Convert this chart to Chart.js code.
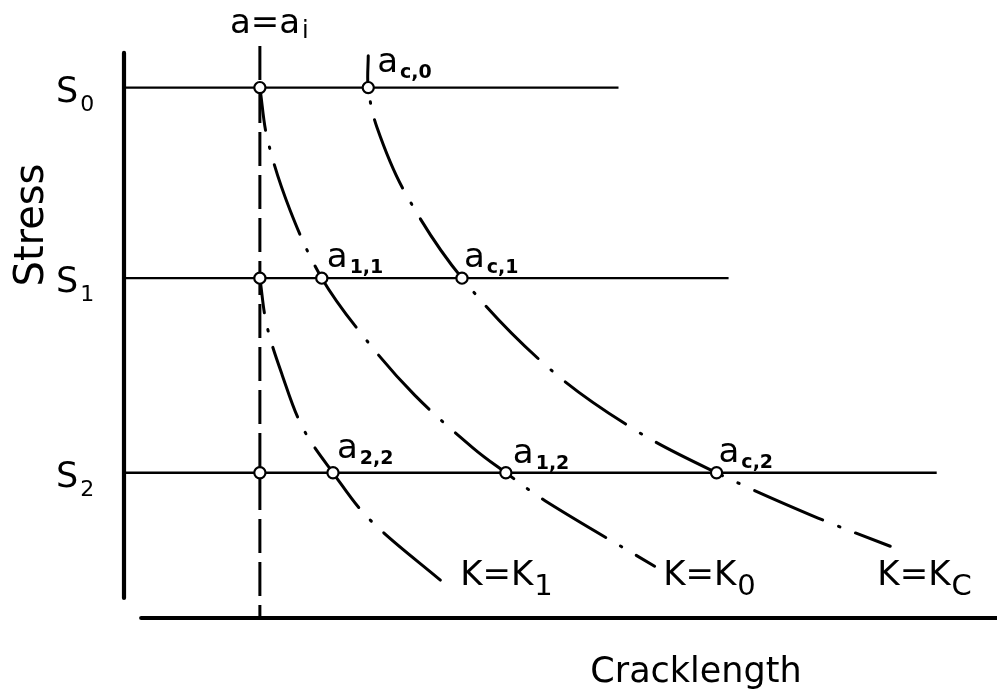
<!DOCTYPE html>
<html>
<head>
<meta charset="utf-8">
<script src="https://cdn.jsdelivr.net/npm/chart.js@4/dist/chart.umd.min.js"></script>
<style>
html,body{margin:0;padding:0;background:#fff;}
canvas{display:block;}
</style>
</head>
<body>
<canvas id="c" width="997" height="694"></canvas>
<script>
// ---------------- data (arbitrary units: crack length 0..100, stress 0..100) ----------------
const stressNames   = ['S', 'S', 'S'];
const stressSubs    = ['0', '1', '2'];
const stressLevels  = [90.2, 57.8, 24.7];      // S0, S1, S2
const stressLineEnd = [57.5, 70.3, 94.5];      // extent of each constant-stress line
const initialCrack  = 15.8;                    // a = a_i
const criticalCrack = [28.4, 39.3, 68.9];      // a_c,0  a_c,1  a_c,2
const a11 = 23.0, a12 = 44.4, a22 = 24.3;      // intermediate crack lengths

// K = K0 curve (crack length, stress)
const curveK0 = [[15.8,90.2],[16.7,81.3],[19.3,69.4],[23.0,57.8],[28.0,47.6],[33.8,37.9],
                 [40.6,28.9],[44.4,24.7],[49.0,19.9],[61.7,8.8]];
// K = K1 curve
const curveK1 = [[15.8,57.8],[16.6,49.8],[18.4,41.3],[20.8,32.3],[24.3,24.7],[28.6,16.7],
                 [37.3,5.8]];
// K = Kc curve
const curveKc = [[28.4,95.6],[28.4,90.2],[29.4,83.5],[32.7,72.3],[39.3,57.8],[49.4,42.5],
                 [59.4,32.0],[68.9,24.7],[80.7,17.0],[89.1,12.2]];

const yAxisExtent = [3.4, 96.1];
const xAxisExtent = [2.0, 102];
const initialLineTop = 97.3;

const curveNames = [['K=K','1'], ['K=K','0'], ['K=K','C']];
const axisTitleX = 'Cracklength';
const axisTitleY = 'Stress';

// ---------------- build datasets ----------------
const pts = arr => arr.map(p => ({x: p[0], y: p[1]}));
const FONT = '"DejaVu Sans", "Liberation Sans", sans-serif';

const datasets = [];

// open circles at intersections (on top)
const circlePts = [];
stressLevels.forEach(s => circlePts.push({x: initialCrack, y: s}));
criticalCrack.forEach((a, i) => circlePts.push({x: a, y: stressLevels[i]}));
circlePts.push({x: a11, y: stressLevels[1]}, {x: a12, y: stressLevels[2]}, {x: a22, y: stressLevels[2]});
datasets.push({
  data: circlePts, showLine: false, order: 0,
  pointRadius: 5.6, pointBorderWidth: 2.2, pointBackgroundColor: '#fff',
  pointBorderColor: '#000', pointStyle: 'circle', clip: false
});

// axes
datasets.push({data: [{x:0,y:yAxisExtent[1]},{x:0,y:yAxisExtent[0]}], showLine:true, order:1,
  borderColor:'#000', borderWidth:4.2, borderCapStyle:'round', pointRadius:0, clip:false});
datasets.push({data: [{x:xAxisExtent[0],y:0},{x:xAxisExtent[1],y:0}], showLine:true, order:1,
  borderColor:'#000', borderWidth:4.2, borderCapStyle:'round', pointRadius:0, clip:false});

// constant stress lines
stressLevels.forEach((s, i) => datasets.push({
  data: [{x:0,y:s},{x:stressLineEnd[i],y:s}], showLine:true, order:1,
  borderColor:'#000', borderWidth:2.3, pointRadius:0, clip:false
}));

// initial crack length, dashed vertical
datasets.push({data: [{x:initialCrack,y:initialLineTop},{x:initialCrack,y:0}], showLine:true, order:1,
  borderColor:'#000', borderWidth:3, borderDash:[34,9], borderCapStyle:'butt', pointRadius:0, clip:false});

// K curves, dash-dot
const curveStyle = {showLine:true, order:1, borderColor:'#000', borderWidth:3, borderCapStyle:'round',
  borderDash:[74,17,1.5,17], tension:0.35, pointRadius:0, clip:false};
datasets.push(Object.assign({data: pts(curveK0), borderDashOffset:31}, curveStyle));
datasets.push(Object.assign({data: pts(curveK1), borderDashOffset:39}, curveStyle));
datasets.push(Object.assign({data: pts(curveKc), borderDashOffset:45}, curveStyle));

// ---------------- text annotations ----------------
const pointLabels = [
  {sub:'c,0', x: criticalCrack[0], y: stressLevels[0], dx: 9, dy: -16},
  {sub:'1,1', x: a11,              y: stressLevels[1], dx: 5, dy: -11},
  {sub:'c,1', x: criticalCrack[1], y: stressLevels[1], dx: 2, dy: -11},
  {sub:'2,2', x: a22,              y: stressLevels[2], dx: 4, dy: -15},
  {sub:'1,2', x: a12,              y: stressLevels[2], dx: 7, dy: -10},
  {sub:'c,2', x: criticalCrack[2], y: stressLevels[2], dx: 2, dy: -11}
];
const curveLabelPos = [[39.1, 5.6], [62.7, 5.6], [87.6, 5.6]];

function drawSub(ctx, main, sub, x, y, mainFont, subFont, subDy, gap) {
  ctx.font = mainFont;
  ctx.fillText(main, x, y);
  const w = ctx.measureText(main).width;
  ctx.font = subFont;
  ctx.fillText(sub, x + w + (gap || 0), y + subDy);
}

const textPlugin = {
  id: 'texts',
  afterDatasetsDraw(chart) {
    const {ctx, scales} = chart;
    const X = v => scales.x.getPixelForValue(v), Y = v => scales.y.getPixelForValue(v);
    ctx.save();
    ctx.fillStyle = '#000';
    ctx.textBaseline = 'alphabetic';
    ctx.textAlign = 'left';

    // a = a_i
    drawSub(ctx, 'a=a', 'i', X(initialCrack) - 30, Y(initialLineTop) - 13,
            '34px ' + FONT, '24px ' + FONT, 5, 2);

    // point labels
    pointLabels.forEach(l => {
      drawSub(ctx, 'a', l.sub, X(l.x) + l.dx, Y(l.y) + l.dy,
              '34px ' + FONT, 'bold 19px ' + FONT, 6, 2);
    });

    // stress level labels
    stressLevels.forEach((s, i) => {
      drawSub(ctx, stressNames[i], stressSubs[i], 56, Y(s) + 14,
              '35px ' + FONT, '22px ' + FONT, 9, 2);
    });

    // curve labels
    curveNames.forEach((c, i) => {
      drawSub(ctx, c[0], c[1], X(curveLabelPos[i][0]), Y(curveLabelPos[i][1]),
              '34px ' + FONT, '29px ' + FONT, 10, 1);
    });

    // axis titles
    ctx.font = '35px ' + FONT;
    ctx.textAlign = 'center';
    ctx.fillText(axisTitleX, 696, 682);
    ctx.save();
    ctx.translate(43, 225);
    ctx.rotate(-Math.PI / 2);
    ctx.font = '40px ' + FONT;
    ctx.fillText(axisTitleY, 0, 0);
    ctx.restore();

    ctx.restore();
  }
};

new Chart(document.getElementById('c'), {
  type: 'scatter',
  data: {datasets},
  options: {
    responsive: false,
    animation: false,
    devicePixelRatio: 1,
    layout: {padding: {left: 124, right: 13, top: 30, bottom: 76}},
    plugins: {legend: {display: false}, tooltip: {enabled: false}},
    scales: {
      x: {type: 'linear', min: 0, max: 100, display: false},
      y: {type: 'linear', min: 0, max: 100, display: false}
    }
  },
  plugins: [textPlugin]
});
</script>
</body>
</html>
